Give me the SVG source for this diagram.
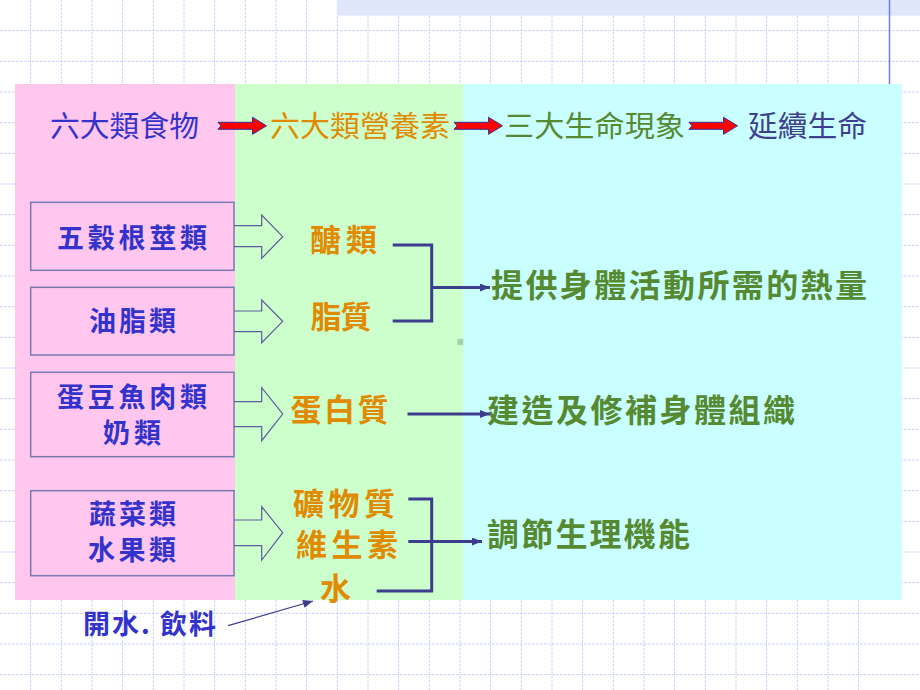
<svg xmlns="http://www.w3.org/2000/svg" width="920" height="690" viewBox="0 0 920 690">
<style>
.grid{stroke:#c9d5f7;stroke-width:1;stroke-dasharray:3 1;fill:none}
.hdr{font-family:"Noto Sans CJK TC","Noto Sans CJK SC",sans-serif;font-size:29px;font-weight:400}
.kai{font-family:"Noto Sans CJK TC","Noto Sans CJK SC",sans-serif;font-weight:700}
.blue{fill:#3333cc}
.org{fill:#e08a00}
.grn{fill:#568a32}
.box{fill:none;stroke:#7a7ab0;stroke-width:1.5}
.hollow{fill:none;stroke:#5c5c9c;stroke-width:1.2}
.brk{fill:none;stroke:#3d3d8f;stroke-width:3}
.thin{fill:none;stroke:#3d3d8f;stroke-width:1.2}
.red{fill:#ff0000;stroke:#33339a;stroke-width:1}
</style>
<defs>
<path id="redArrow" d="M0,-3.5 L34.5,-3.5 L34.5,-8.5 L48.5,0 L34.5,8.5 L34.5,3.5 L0,3.5 L3,0 Z"/>
<marker id="ah" viewBox="0 0 10 8" refX="10" refY="4" markerWidth="10" markerHeight="8" markerUnits="userSpaceOnUse" orient="auto">
<path d="M0,0 L10,4 L0,8 Z" fill="#3d3d8f"/>
</marker>
<marker id="ahs" viewBox="0 0 10 8" refX="10" refY="4" markerWidth="11" markerHeight="8" markerUnits="userSpaceOnUse" orient="auto">
<path d="M0,0 L10,4 L0,8 Z" fill="#3d3d8f"/>
</marker>
</defs>
<rect width="920" height="690" fill="#ffffff"/>
<g id="background">
<path class="grid" d="M30.67,0V690M61.33,0V690M92,0V690M122.67,0V690M153.33,0V690M184,0V690M214.67,0V690M245.33,0V690M276,0V690M306.67,0V690M337.33,0V690M368,0V690M398.67,0V690M429.33,0V690M460,0V690M490.67,0V690M521.33,0V690M552,0V690M582.67,0V690M613.33,0V690M644,0V690M674.67,0V690M705.33,0V690M736,0V690M766.67,0V690M797.33,0V690M828,0V690M858.67,0V690"/>
<path class="grid" d="M0,30.67H920M0,61.33H920M0,92H920M0,122.67H920M0,153.33H920M0,184H920M0,214.67H920M0,245.33H920M0,276H920M0,306.67H920M0,337.33H920M0,368H920M0,398.67H920M0,429.33H920M0,460H920M0,490.67H920M0,521.33H920M0,552H920M0,582.67H920M0,613.33H920M0,644H920M0,674.67H920"/>
<rect x="337" y="0" width="583" height="15.7" fill="#dfe7fb"/>
<line x1="889.5" y1="0" x2="889.5" y2="84" stroke="#6a7ee8" stroke-width="1.5"/>
<rect x="15" y="84" width="220" height="516" fill="#ffc6ee"/>
<rect x="235" y="84" width="228" height="516" fill="#ccffcc"/>
<rect x="463" y="84" width="439" height="516" fill="#c9ffff"/>
<rect x="457.3" y="339" width="6" height="6" fill="#a8d0a8"/>
</g>
<g id="header">
<text class="hdr blue" x="50" y="137" textLength="149" lengthAdjust="spacingAndGlyphs">六大類食物</text>
<text class="hdr org" x="270" y="137" textLength="180" lengthAdjust="spacingAndGlyphs">六大類營養素</text>
<text class="hdr grn" x="504" y="137" textLength="181" lengthAdjust="spacingAndGlyphs">三大生命現象</text>
<text class="hdr" fill="#3f3f8f" x="748" y="137" textLength="119" lengthAdjust="spacingAndGlyphs">延續生命</text>
<use href="#redArrow" class="red" x="218" y="125.8"/>
<use href="#redArrow" class="red" x="454" y="125.8"/>
<use href="#redArrow" class="red" x="689" y="125.8"/>
</g>
<g id="food-grains">
<rect class="box" x="30.7" y="202.3" width="203.3" height="68"/>
<text class="kai blue" font-size="27" x="57" y="248" textLength="150">五穀根莖類</text>
</g>
<g id="food-oils">
<rect class="box" x="30.7" y="287.3" width="203.3" height="67.7"/>
<text class="kai blue" font-size="27" x="89" y="331" textLength="87">油脂類</text>
</g>
<g id="food-protein">
<rect class="box" x="30.7" y="372.3" width="203.3" height="84.4"/>
<text class="kai blue" font-size="27" x="57" y="407" textLength="150">蛋豆魚肉類</text>
<text class="kai blue" font-size="27" x="103" y="443" textLength="58">奶類</text>
</g>
<g id="food-veg">
<rect class="box" x="30.7" y="490.7" width="203.3" height="85"/>
<text class="kai blue" font-size="27" x="89" y="524" textLength="87">蔬菜類</text>
<text class="kai blue" font-size="27" x="88" y="560" textLength="88">水果類</text>
</g>
<g id="water-drinks">
<text class="kai blue" font-size="27" x="83" y="634" textLength="133">開水. 飲料</text>
</g>
<g id="nutrient-carb">
<text class="kai org" font-size="31" x="310" y="251" textLength="67">醣類</text>
</g>
<g id="nutrient-fat">
<text class="kai org" font-size="31" x="310.5" y="328" textLength="61">脂質</text>
</g>
<g id="nutrient-protein">
<text class="kai org" font-size="31" x="290.5" y="421" textLength="98">蛋白質</text>
</g>
<g id="nutrient-minerals">
<text class="kai org" font-size="31" x="293" y="515" textLength="102">礦物質</text>
<text class="kai org" font-size="31" x="296" y="556" textLength="102">維生素</text>
<text class="kai org" font-size="31" x="320" y="600" textLength="32">水</text>
</g>
<g id="function-energy">
<text class="kai grn" font-size="32" x="491" y="297" textLength="376">提供身體活動所需的熱量</text>
</g>
<g id="function-build">
<text class="kai grn" font-size="32" x="487" y="422" textLength="308">建造及修補身體組織</text>
</g>
<g id="function-regulate">
<text class="kai grn" font-size="32" x="487" y="546" textLength="203">調節生理機能</text>
</g>
<g id="connectors">
<path class="hollow" d="M234,225.7 H261.7 V215 L282.7,236.7 L261.7,258.3 V246.7 H234"/>
<path class="hollow" d="M234,311 H261.7 V300 L282.7,321.3 L261.7,342.7 V331.7 H234"/>
<path class="hollow" d="M234,401.7 H261.7 V387.7 L282.7,414 L261.7,440.7 V426.7 H234"/>
<path class="hollow" d="M234,520 H261.7 V506.7 L282.7,532.7 L261.7,560 V545.7 H234"/>
<path class="brk" d="M392.7,245 H431.7 V321 H392.7"/>
<path class="brk" d="M431.7,287.5 H490" marker-end="url(#ah)"/>
<path class="brk" d="M407.5,414 H490" marker-end="url(#ah)"/>
<path class="brk" d="M408.3,499 H431.7 V591 H376.7"/>
<path class="brk" d="M408.3,541.5 H482" marker-end="url(#ah)"/>
<path class="thin" d="M228,625.7 L313,601" marker-end="url(#ahs)"/>
</g>
</svg>
